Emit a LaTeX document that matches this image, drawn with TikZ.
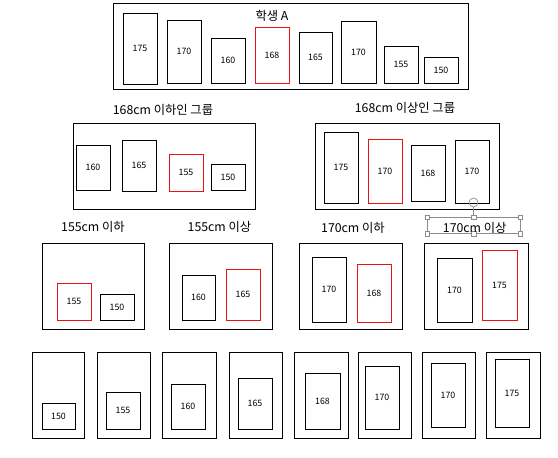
\documentclass[tikz,border=0pt]{standalone}
\usepackage{fontspec}
\setmainfont{Noto Sans CJK KR}
\usepackage{tikz}
\usetikzlibrary{calc, positioning}
\usepackage{xcolor}
\definecolor{picked}{RGB}{230, 20, 20}
\definecolor{gripgray}{RGB}{140, 140, 140}

\tikzset{
  stud/.style={draw=black, line width=0.9pt},
  pickbox/.style={draw=picked, line width=0.9pt},
  groupbox/.style={draw=black, line width=1pt},
  num/.style={font=\fontsize{8.8}{10}\selectfont, inner sep=0pt},
  ttl/.style={font=\fontsize{12.3}{14}\selectfont, inner sep=0pt},
  grip/.style={draw=gripgray, fill=white, line width=0.5pt, minimum size=4.5pt, inner sep=0pt}
}

\begin{document}
\begin{tikzpicture}[x=1pt, y=-1pt]
  \useasboundingbox (0,0) rectangle (558,458);

  % whole class
  \draw[groupbox] (113,3) rectangle (468,89);
  \node[ttl] (allttl) at (272,16) {학생 A};
  \draw[stud] (123,13) rectangle (157,84) node[num, midway] (a175) {175};
  \draw[stud] (167,20) rectangle (201,83.5) node[num, midway] (a170) {170};
  \draw[stud] (211,38) rectangle (245,83.5) node[num, midway] (a160) {160};
  \draw[pickbox] (255,27) rectangle (289,83.5) node[num, midway] (a168) {168};
  \draw[stud] (299,32) rectangle (332,83.5) node[num, midway] (a165) {165};
  \draw[stud] (341,21) rectangle (376,83.5) node[num, midway] (b170) {170};
  \draw[stud] (384,46) rectangle (418,83.5) node[num, midway] (a155) {155};
  \draw[stud] (424,57) rectangle (458,83.5) node[num, midway] (a150) {150};

  % 168 split
  \node[ttl] (lowttl) at (163,110) {168cm 이하인 그룹};
  \draw[groupbox] (73,123) rectangle (255,209);
  \draw[stud] (76,145) rectangle (110,190) node[num, midway] (l160) {160};
  \draw[stud] (122,140) rectangle (156,191) node[num, midway] (l165) {165};
  \draw[pickbox] (169,154) rectangle (203,191) node[num, midway] (l155) {155};
  \draw[stud] (211,164) rectangle (245,190) node[num, midway] (l150) {150};

  \node[ttl] (highttl) at (405,108) {168cm 이상인 그룹};
  \draw[groupbox] (315,123) rectangle (499,209);
  \draw[stud] (324,132) rectangle (358,203) node[num, midway] (h175) {175};
  \draw[pickbox] (368,139) rectangle (402,203) node[num, midway] (h170) {170};
  \draw[stud] (411,145) rectangle (445,201) node[num, midway] (h168) {168};
  \draw[stud] (455,140) rectangle (489,203) node[num, midway] (k170) {170};

  % third level
  \node[ttl] (llttl) at (93,227) {155cm 이하};
  \draw[groupbox] (42,243) rectangle (144,329);
  \draw[pickbox] (57,283) rectangle (91,320) node[num, midway] (ll155) {155};
  \draw[stud] (100,294) rectangle (134,320) node[num, midway] (ll150) {150};

  \node[ttl] (lhttl) at (219.5,227) {155cm 이상};
  \draw[groupbox] (169,243) rectangle (272,329);
  \draw[stud] (182,275) rectangle (215,320) node[num, midway] (lh160) {160};
  \draw[pickbox] (226,269) rectangle (260,320) node[num, midway] (lh165) {165};

  \node[ttl] (hlttl) at (353,227.5) {170cm 이하};
  \draw[groupbox] (299,243) rectangle (402,329);
  \draw[stud] (312,257) rectangle (346,322) node[num, midway] (hl170) {170};
  \draw[pickbox] (357,264) rectangle (391,322) node[num, midway] (hl168) {168};

  % selected text box
  \draw[gripgray, line width=0.6pt] (427,217) rectangle (520,233.5);
  \node[grip] (gtl) at (427,217) {};
  \node[grip] (gtm) at (473.5,217) {};
  \node[grip] (gtr) at (520,217) {};
  \node[grip] (gbl) at (427,233.5) {};
  \node[grip] (gbm) at (473.5,233.5) {};
  \node[grip] (gbr) at (520,233.5) {};
  \node[draw=gripgray, circle, line width=0.7pt, minimum size=9pt, inner sep=0pt] (rot) at (473.5,202.5) {};
  \draw[gripgray, line width=0.6pt] (rot) -- (gtm);
  \node[ttl] (hhttl) at (474.7,227.5) {170cm 이상};
  \draw[groupbox] (424,243) rectangle (528,329);
  \draw[stud] (437,258) rectangle (472,322) node[num, midway] (hh170) {170};
  \draw[pickbox] (482,250) rectangle (517,320) node[num, midway] (hh175) {175};

  % one per box
  \draw[groupbox] (32,352) rectangle (84,438);
  \draw[stud] (42,403) rectangle (75,429) node[num, midway] (s150) {150};
  \draw[groupbox] (97,352) rectangle (150,438);
  \draw[stud] (106,392) rectangle (140,429) node[num, midway] (s155) {155};
  \draw[groupbox] (162,352) rectangle (216,438);
  \draw[stud] (171,384) rectangle (205,429) node[num, midway] (s160) {160};
  \draw[groupbox] (229,352) rectangle (282,438);
  \draw[stud] (238,378) rectangle (272,429) node[num, midway] (s165) {165};
  \draw[groupbox] (294,352) rectangle (348,438);
  \draw[stud] (305,373) rectangle (340,429) node[num, midway] (s168) {168};
  \draw[groupbox] (358,352) rectangle (411,438);
  \draw[stud] (365,366) rectangle (399,429) node[num, midway] (s170) {170};
  \draw[groupbox] (422,352) rectangle (475,438);
  \draw[stud] (431,363) rectangle (465,427) node[num, midway] (t170) {170};
  \draw[groupbox] (486,352) rectangle (540,438);
  \draw[stud] (495,359) rectangle (529,427) node[num, midway] (s175) {175};
\end{tikzpicture}
\end{document}
